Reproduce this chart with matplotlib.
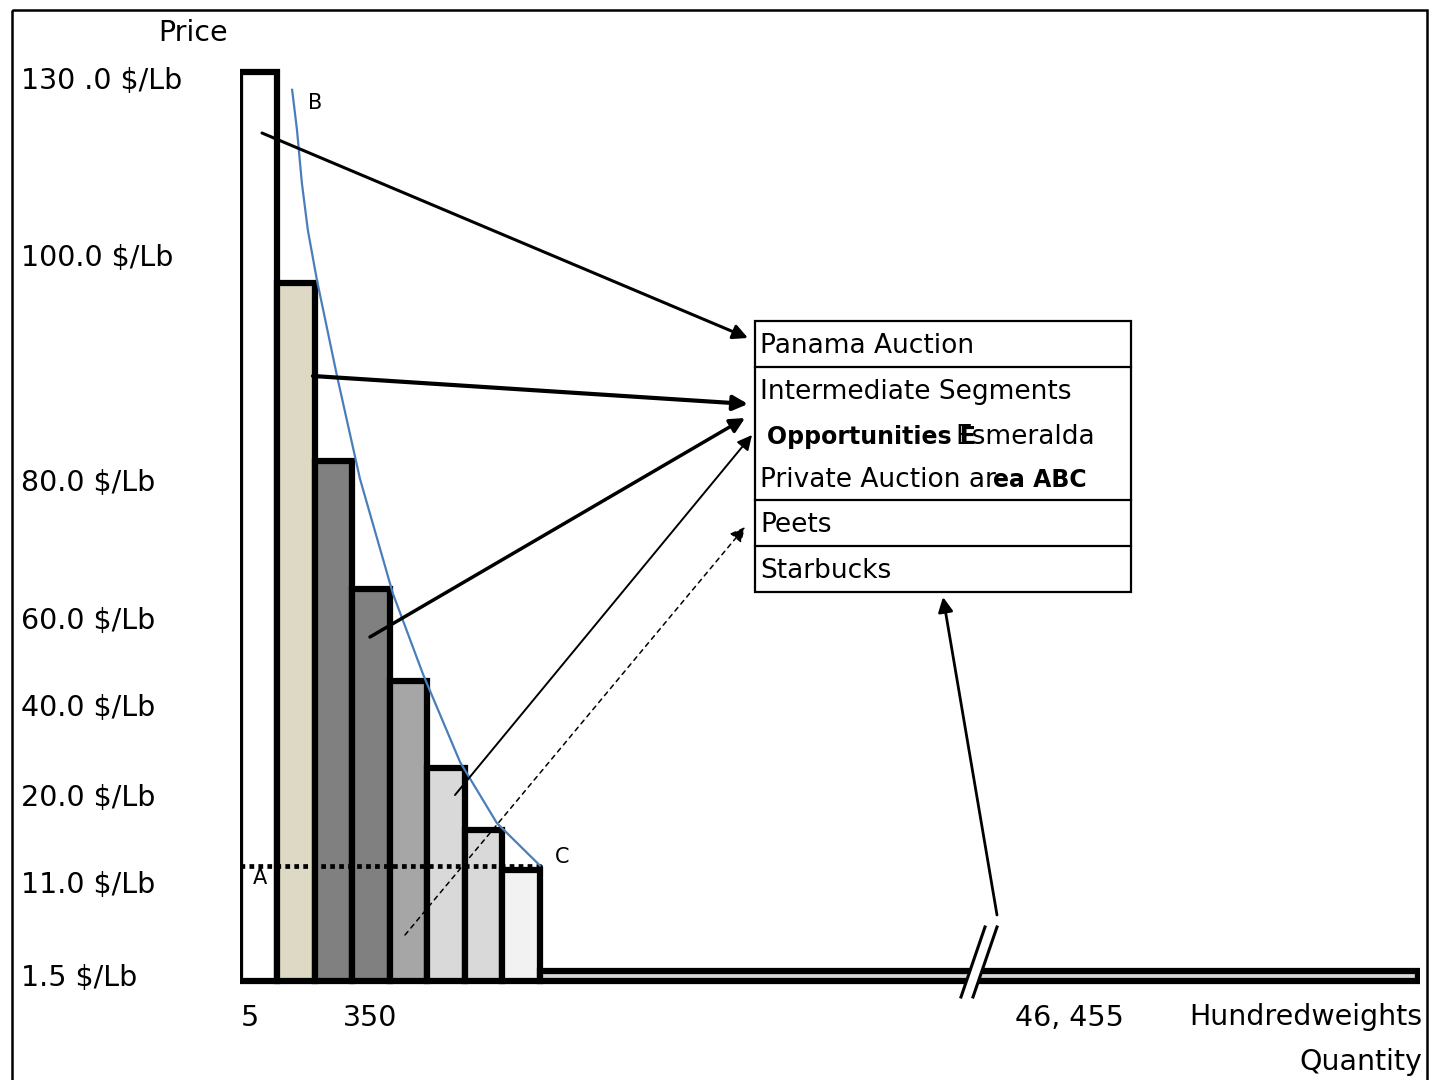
import numpy as np
import matplotlib
matplotlib.use("Agg")
import matplotlib.pyplot as plt
import matplotlib.patches as mpatches

# -----------------------------------------------
# data
# -----------------------------------------------
price_ticks = [1.5, 11.0, 20.0, 40.0, 60.0, 80.0, 100.0, 130.0]
price_labels = ["1.5 $/Lb", "11.0 $/Lb", "20.0 $/Lb", "40.0 $/Lb",
                "60.0 $/Lb", "80.0 $/Lb", "100.0 $/Lb", "130 .0 $/Lb"]

# price step of each market segment (one bar per segment, left to right)
segment_price = [131.0, 97.5, 81.7, 64.2, 45.5, 26.0, 16.4, 12.2]
segment_colors = ["#ffffff", "#ddd9c4", "#808080", "#808080",
                  "#a6a6a6", "#d9d9d9", "#d9d9d9", "#f2f2f2"]

# long commodity tail after the steps
tail_start = 8
tail_end = 31.47
tail_price = 1.9
base_price = 0.9

# demand curve B -> C
demand_q = [1.39, 1.52, 1.65, 1.81, 2.05, 2.59, 3.2, 4.08, 4.88, 5.87, 6.85, 8.0]
demand_p = [128.0, 121.2, 112.2, 104.2, 97.8, 89.2, 80.1, 63.5, 47.1, 27.3, 17.1, 12.7]
floor_price = 12.7

qty_ticks = [0.27, 3.47, 22.13]
qty_labels = ["5", "350", "46, 455"]

# uneven price axis as drawn in the original
axis_vals = np.array([-10, 1.5, 11, 20, 40, 60, 80, 100, 130, 200])
axis_pos = np.array([-112.6, 0, 93, 180, 270, 357, 495, 720, 897, 1310])


def fwd(v):
    return np.interp(v, axis_vals, axis_pos)


def inv(p):
    return np.interp(p, axis_pos, axis_vals)


W, H = 1429, 1080
plt.rcParams["font.family"] = ["DejaVu Sans"]

fig = plt.figure(figsize=(W / 100, H / 100), dpi=100)
ax = fig.add_axes([240 / W, 1 - 990 / H, 1180 / W, 930 / H])
ax.set_yscale("function", functions=(fwd, inv))
ax.set_xlim(0, tail_end)
ax.set_ylim(inv(-15), inv(915))

x = np.arange(len(segment_price))
ax.bar(x, np.array(segment_price) - base_price, bottom=base_price, width=1.0,
       align="edge", color=segment_colors, edgecolor="black", linewidth=4.5, zorder=2)
ax.bar(tail_start, tail_price - base_price, bottom=base_price, width=tail_end - tail_start - 0.05,
       align="edge", color="#d9d9d9", edgecolor="black", linewidth=4.5, zorder=2)

# area ABC (dotted)
ax.plot([0, tail_start, tail_start], [floor_price, floor_price, 1.5],
        color="black", ls=(0, (1, 0.9)), lw=3.4, zorder=3)

# demand curve
ax.plot(demand_q, demand_p, color="#4a7ebb", lw=1.6, zorder=4)

ax.set_yticks(price_ticks, price_labels)
ax.set_xticks(qty_ticks, qty_labels)
ax.tick_params(axis="y", length=0, pad=158, labelsize=20.5)
ax.tick_params(axis="x", length=0, pad=10, labelsize=20.5)
for lbl in ax.get_yticklabels():
    lbl.set_ha("left")
for s in ax.spines.values():
    s.set_visible(False)

ax.text(1.002, -0.014, "Hundredweights", transform=ax.transAxes, ha="right", va="top",
        fontsize=20.5, clip_on=False)
ax.text(1.002, -0.062, "Quantity", transform=ax.transAxes, ha="right", va="top",
        fontsize=20.5, clip_on=False)

# -----------------------------------------------
# overlay in pixel coords: frame, labels, box, arrows
# -----------------------------------------------
ov = fig.add_axes([0, 0, 1, 1], zorder=5)
ov.set_xlim(0, W)
ov.set_ylim(H, 0)
ov.axis("off")

ov.add_patch(mpatches.Rectangle((12, 10), 1415, 1100, fill=False, lw=1.8, ec="black"))
ov.text(193, 33, "Price", ha="center", va="center", fontsize=20.5)
ov.text(315, 103, "B", ha="center", va="center", fontsize=15)
ov.text(562, 857, "C", ha="center", va="center", fontsize=15)
ov.text(260, 878, "A", ha="center", va="center", fontsize=15)

# axis break
ov.add_patch(mpatches.Polygon([(962, 997), (985, 927), (996, 927), (973, 997)],
                              closed=True, fc="white", ec="none", zorder=3))
ov.plot([961, 985], [997, 927], color="black", lw=2.2, zorder=4)
ov.plot([973, 997], [997, 927], color="black", lw=2.2, zorder=4)

# box of segments
ov.add_patch(mpatches.Rectangle((755, 321), 376, 271, fill=True, fc="white", lw=1.6, ec="black"))
for yy in [367, 500, 546]:
    ov.plot([755, 1131], [yy, yy], color="black", lw=1.6)

fs = 19
ov.text(760, 346, "Panama Auction", va="center", fontsize=fs)
ov.text(760, 392, "Intermediate Segments", va="center", fontsize=fs)
ov.text(955, 437, "Esmeralda", va="center", fontsize=fs)
ov.text(767, 437, "Opportunities E", va="center", fontsize=17, weight="bold")
ov.text(760, 480, "Private Auction ar", va="center", fontsize=fs)
ov.text(993, 480, "ea ABC", va="center", fontsize=17, weight="bold")
ov.text(760, 525, "Peets", va="center", fontsize=fs)
ov.text(760, 571, "Starbucks", va="center", fontsize=fs)

arrows = [
    ((262, 133), (748, 338), 2.2, "-"),
    ((313, 376), (748, 404), 3.0, "-"),
    ((370, 637), (745, 418), 2.5, "-"),
    ((455, 795), (752, 435), 1.4, "-"),
    ((405, 935), (745, 527), 1.1, (0, (3, 3))),
    ((997, 915), (943, 597), 2.0, "-"),
]
for (x0, y0), (x1, y1), lw, ls in arrows:
    ov.annotate("", xy=(x1, y1), xytext=(x0, y0), xycoords="data",
                arrowprops=dict(arrowstyle="-|>", color="black", lw=lw, ls=ls,
                                mutation_scale=22, shrinkA=0, shrinkB=0))

fig.savefig("out.png", dpi=100)
